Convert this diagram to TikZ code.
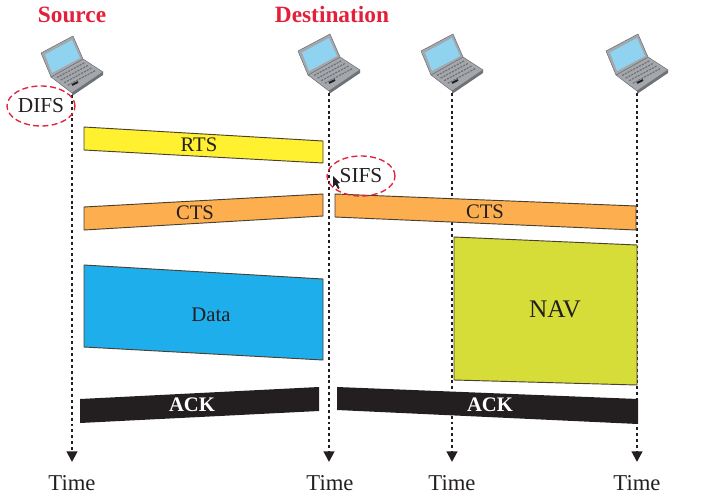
\documentclass[tikz,border=0pt]{standalone}
\usepackage{fontspec}
\setmainfont{Liberation Serif}
\usetikzlibrary{arrows.meta,shapes.geometric}
\definecolor{hd}{HTML}{E3203A}
\definecolor{rtsc}{HTML}{FFF030}
\definecolor{ctsc}{HTML}{FDAE4F}
\definecolor{datac}{HTML}{1FAEEC}
\definecolor{navc}{HTML}{D6DC38}
\definecolor{ackc}{HTML}{231F20}
\definecolor{edgec}{HTML}{4A4030}
\definecolor{lapg}{HTML}{A4A7AB}
\definecolor{lapd}{HTML}{6E7175}
\definecolor{scr}{HTML}{8FD3F0}
\tikzset{
  x=0.75pt,y=-0.75pt,
  frame/.style={draw=edgec,line width=0.7pt,line join=round},
  life/.style={draw=ackc,line width=1.6pt,dash pattern=on 2.2pt off 2.2pt,-{Triangle[length=8pt,width=8pt]}},
  head/.style={font=\fontsize{17.5}{20}\selectfont\bfseries,text=hd,inner sep=0pt},
  timel/.style={font=\fontsize{17}{20}\selectfont,text=ackc,inner sep=0pt},
  lab/.style={font=\fontsize{15.5}{18}\selectfont,text=ackc,inner sep=0pt},
  acklab/.style={font=\fontsize{15.5}{18}\selectfont\bfseries,text=white,inner sep=0pt},
  ring/.style={draw=hd,line width=1pt,dash pattern=on 4.5pt off 2.5pt,ellipse,inner sep=0pt,minimum width=51pt,minimum height=30pt,font=\fontsize{16}{18}\selectfont,text=ackc},
  laptop/.pic={
    % tip of the base is the local origin
    \fill[lapg,draw=lapd,line width=0.4pt,line join=round] (-21,-16) -- (11,-34) -- (31,-21) -- (0,0) -- cycle;
    \fill[lapd] (0,0) -- (31,-21) -- (31,-18) -- (0,3) -- cycle;
    \fill[lapg,draw=lapd,line width=0.4pt,line join=round] (-31,-40) -- (1,-57) -- (11,-34) -- (-21,-16) -- cycle;
    \fill[scr] (-27,-38.5) -- (0,-53) -- (8,-35) -- (-20,-20) -- cycle;
    \foreach \t in {0,1,2,3}{
      \draw[lapd,line width=0.9pt,dash pattern=on 1.6pt off 0.8pt] ({-15+\t*3.6},{-15.5+\t*2.6}) -- ({13+\t*3.6},{-30.5+\t*2.6});
    }
    \draw[ackc,line width=1.4pt] (0,-8) -- (6,-11);
  }
}
\begin{document}
\begin{tikzpicture}
\useasboundingbox (0,0) rectangle (727,496);
% laptops and their line starts
\pic at (72,93) {laptop};
\pic at (329,91) {laptop};
\pic at (452,91) {laptop};
\pic at (637,91) {laptop};
\coordinate (lapA) at (72,95);
\coordinate (lapB) at (329,93);
\coordinate (lapC) at (452,93);
\coordinate (lapD) at (637,93);
% time labels
\node[timel] (timeA) at (72,483) {Time};
\node[timel] (timeB) at (330,483) {Time};
\node[timel] (timeC) at (452,483) {Time};
\node[timel] (timeD) at (637,483) {Time};
\coordinate (endA) at (72,462);
\coordinate (endB) at (329,462);
\coordinate (endC) at (452,462);
\coordinate (endD) at (637,462);
% life lines
\draw[life] (lapA) -- (endA);
\draw[life] (lapB) -- (endB);
\draw[life] (lapC) -- (endC);
\draw[life] (lapD) -- (endD);
% frames
\filldraw[frame,fill=rtsc] (84,127) -- (323,141) -- (323,163) -- (84,150) -- cycle;
\filldraw[frame,fill=ctsc] (84,207) -- (323,194) -- (323,216) -- (84,230) -- cycle;
\filldraw[frame,fill=ctsc] (335,194) -- (636,206) -- (636,230) -- (335,217) -- cycle;
\filldraw[frame,fill=datac] (84,265) -- (323,279) -- (323,360) -- (84,347) -- cycle;
\filldraw[frame,fill=navc] (454,237) -- (637,245) -- (637,385) -- (454,380) -- cycle;
\fill[ackc] (80,399) -- (319,387) -- (319,411) -- (80,423) -- cycle;
\fill[ackc] (337,387) -- (638,399) -- (638,424) -- (337,410) -- cycle;
% labels
\node[lab] (rts) at (199,145) {RTS};
\node[lab] (cts1) at (195,213) {CTS};
\node[lab] (cts2) at (485,212) {CTS};
\node[lab] (data) at (211,315) {Data};
\node[font=\fontsize{19}{22}\selectfont,text=ackc,inner sep=0pt] (nav) at (555,309) {NAV};
\node[acklab] (ack1) at (192,405) {ACK};
\node[acklab] (ack2) at (490,405) {ACK};
% headings
\node[head] (src) at (72,15) {Source};
\node[head] (dst) at (332,15) {Destination};
% spacing rings
\node[ring] (difs) at (41,106) {DIFS};
\node[ring] (sifs) at (361,176) {SIFS};
% pointer
\fill[ackc] (333,176) -- (333,187) -- (335.5,184.5) -- (338,189) -- (339.5,188) -- (337.5,183.5) -- (340,183) -- cycle;
\end{tikzpicture}
\end{document}
